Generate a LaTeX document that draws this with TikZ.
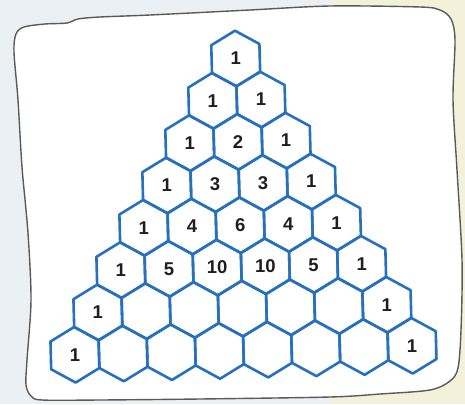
\documentclass[tikz,border=0pt]{standalone}
\usepackage{fontspec}
\setmainfont{Liberation Sans}
\definecolor{hexblue}{RGB}{38,112,190}
\definecolor{bgblue}{RGB}{234,240,243}
\definecolor{bgcream}{RGB}{244,241,218}
\definecolor{framegray}{RGB}{90,90,90}
\definecolor{numcol}{RGB}{30,30,30}
\tikzset{
  hexline/.style={draw=hexblue, line width=2.6pt, line join=round},
  num/.style={font=\bfseries\fontsize{18.5}{18.5}\selectfont, text=numcol, inner sep=0pt},
  framepath/.style={draw=framegray, line width=1.4pt, fill=white, line join=round},
}
\begin{document}
\begin{tikzpicture}[x=1pt,y=-1pt]
\useasboundingbox (0,0) rectangle (465,404);
\fill[bgblue] (0,0) rectangle (330,404);
\fill[bgcream] (330,0) rectangle (465,404);
\draw[framepath] plot[smooth cycle, tension=0.5] coordinates {
 (24,27) (45,24) (67,23) (78,19) (100,17) (150,15) (250,10) (330,6) (420,7)
 (440,10) (451,19) (455,40) (453,100) (457,170) (462,260) (461,330) (458,368)
 (450,381) (430,390) (380,394) (330,397) (200,399) (100,400) (42,400) (31,396)
 (26,385) (27,360) (31,300) (28,233) (22,167) (18,100) (14,52) (16,34)};
\foreach \r/\labels in {0/{1},1/{1,1},2/{1,2,1},3/{1,3,3,1},4/{1,4,6,4,1},
  5/{1,5,10,10,5,1},6/{1,{},{},{},{},{},1},7/{1,{},{},{},{},{},{},1}}{
  \foreach \t [count=\kk from 0] in \labels {
    \pgfmathsetmacro{\cx}{235.7+\r*1.11+(\kk-\r/2)*48.16}
    \pgfmathsetmacro{\cy}{58.5+\r*41.68-(\kk-\r/2)*1.29}
    \node[num] (h\r-\kk) at (\cx,\cy) {\t};
    \draw[hexline] ([shift={(h\r-\kk.center)}]-0.74,-27.79)
      -- ([shift={(h\r-\kk.center)}]23.70,-14.54)
      -- ([shift={(h\r-\kk.center)}]24.44,13.25)
      -- ([shift={(h\r-\kk.center)}]0.74,27.79)
      -- ([shift={(h\r-\kk.center)}]-23.70,14.54)
      -- ([shift={(h\r-\kk.center)}]-24.44,-13.25) -- cycle;
  }
}
\end{tikzpicture}
\end{document}
